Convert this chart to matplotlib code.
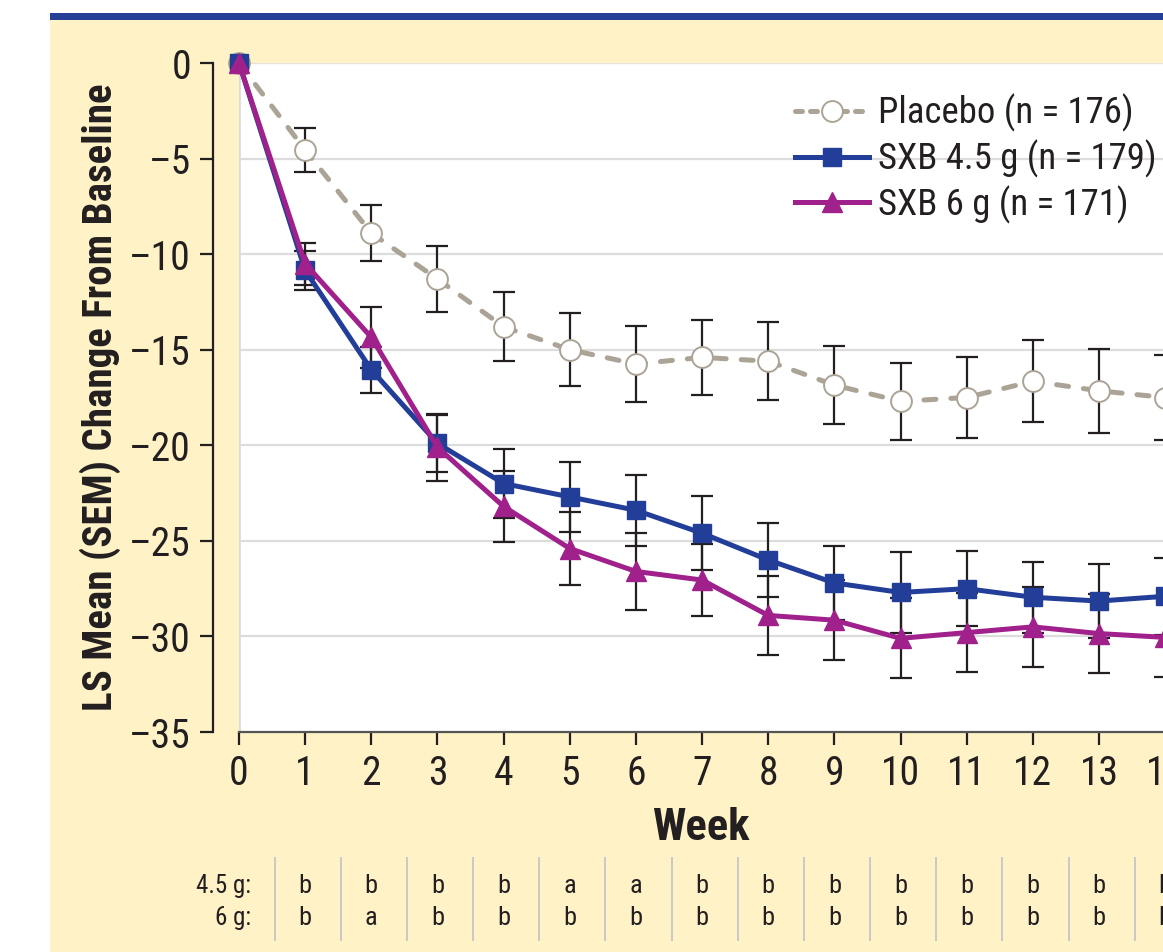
import matplotlib
matplotlib.use('Agg')
from matplotlib import pyplot as plt
from matplotlib.lines import Line2D
from matplotlib.patches import Rectangle
import matplotlib.transforms as mtransforms

# values
weeks = list(range(15))
placebo = [0, -4.55, -8.9, -11.3, -13.8, -15.0, -15.75, -15.4, -15.6, -16.85, -17.7, -17.5, -16.65, -17.15, -17.5]
placebo_sem = [0, 1.15, 1.45, 1.75, 1.8, 1.9, 2.0, 1.95, 2.05, 2.05, 2.0, 2.1, 2.15, 2.2, 2.2]
sxb45 = [0, -10.85, -16.05, -19.9, -22.0, -22.7, -23.4, -24.6, -26.0, -27.2, -27.7, -27.5, -27.95, -28.15, -27.9]
sxb45_sem = [0, 1.0, 1.2, 1.5, 1.8, 1.85, 1.85, 1.95, 1.95, 1.95, 2.1, 1.95, 1.85, 1.95, 2.0]
sxb6 = [0, -10.5, -14.35, -20.1, -23.2, -25.4, -26.6, -27.05, -28.9, -29.15, -30.1, -29.8, -29.5, -29.85, -30.05]
sxb6_sem = [0, 1.1, 1.6, 1.75, 1.85, 1.9, 2.0, 1.9, 2.05, 2.1, 2.1, 2.05, 2.1, 2.05, 2.05]

labels = ['Placebo (n = 176)', 'SXB 4.5 g (n = 179)', 'SXB 6 g (n = 171)']
sig_45 = ['b', 'b', 'b', 'b', 'a', 'a', 'b', 'b', 'b', 'b', 'b', 'b', 'b', 'b']
sig_6 = ['b', 'a', 'b', 'b', 'b', 'b', 'b', 'b', 'b', 'b', 'b', 'b', 'b', 'b']
yticks = [0, -5, -10, -15, -20, -25, -30, -35]

YELLOW = '#fef2c6'
NAVY = '#243f97'
BLUE = '#233e99'
MAGENTA = '#a0218c'
GREY = '#aba396'
INK = '#231f20'

plt.rcParams['font.family'] = ['Roboto Condensed', 'Liberation Sans', 'DejaVu Sans']

W, H = 1163, 952
fig = plt.figure(figsize=(W / 100, H / 100), dpi=100)
fig.patch.set_facecolor('white')

# yellow panel + blue rule on top
fig.patches.append(Rectangle((50 / W, 0), 1, 1 - 20 / H, transform=fig.transFigure,
                             facecolor=YELLOW, edgecolor='none', zorder=-10))
fig.patches.append(Rectangle((50 / W, 1 - 20 / H), 1, 7 / H, transform=fig.transFigure,
                             facecolor=NAVY, edgecolor='none', zorder=-10))

px_week = 66.15
ax = fig.add_axes([239 / W, 1 - 732 / H, 15 * px_week / W, (732 - 63) / H])
ax.set_facecolor('white')
ax.set_xlim(0, 15)
ax.set_ylim(-35, 0)

for y in yticks[1:-1]:
    ax.axhline(y, color='#dcdcdc', lw=1.6, zorder=0)
ax.axhline(0, color='#e2e2e2', lw=1.6, zorder=0)
ax.axvline(0, color='#dcdcdc', lw=2, zorder=0)

# error bars (week 0 has none)
for vals, sem in [(placebo, placebo_sem), (sxb45, sxb45_sem), (sxb6, sxb6_sem)]:
    ax.errorbar(weeks[1:], vals[1:], yerr=sem[1:], fmt='none', ecolor=INK,
                elinewidth=1.6, capsize=8, capthick=1.6, zorder=2)

ax.plot(weeks, placebo, color=GREY, lw=3.6, ls=(0, (2.4, 3.0)), dash_capstyle='round',
        marker='o', ms=15, mfc='white', mec=GREY, mew=1.4, zorder=3, clip_on=False)
ax.plot(weeks, sxb45, color=BLUE, lw=3.6, marker='s', ms=13, mec=BLUE,
        zorder=4, clip_on=False)
ax.plot(weeks, sxb6, color=MAGENTA, lw=3.6, marker='^', ms=15, mec=MAGENTA,
        zorder=5, clip_on=False)

# axes styling
for side in ['top', 'right']:
    ax.spines[side].set_visible(False)
ax.spines['left'].set_position(('outward', 19))
ax.spines['left'].set_color(INK)
ax.spines['left'].set_linewidth(1.6)
ax.spines['bottom'].set_color('#555555')
ax.spines['bottom'].set_linewidth(1.6)
ax.set_yticks(yticks)
ax.set_yticklabels([str(v).replace('-', '\u2013') for v in yticks])
ax.set_xticks(weeks)
ax.tick_params(axis='both', colors=INK, labelsize=28.5, width=1.6, length=9.5)
ax.tick_params(axis='y', pad=6)
ax.tick_params(axis='x', pad=6)

fig.text(100 / W, 1 - 397 / H, 'LS Mean (SEM) Change From Baseline', rotation=90,
         ha='center', va='center', fontsize=29.5, fontweight='bold', color=INK)
fig.text(701 / W, 1 - 828 / H, 'Week', ha='center', va='center',
         fontsize=32, fontweight='bold', color=INK)

handles = [
    Line2D([], [], color=GREY, lw=3.6, ls=(0, (1.4, 1.6)), dash_capstyle='round',
           marker='o', ms=15, mfc='white', mec=GREY, mew=1.4),
    Line2D([], [], color=BLUE, lw=3.6, marker='s', ms=13, mec=BLUE),
    Line2D([], [], color=MAGENTA, lw=3.6, marker='^', ms=15, mec=MAGENTA),
]
leg = ax.legend(handles, labels, loc='upper left',
                bbox_to_anchor=((795 - 239) / (15 * px_week), 1 - (94 - 63) / (732 - 63)),
                frameon=False, fontsize=26.5, handlelength=2.0, handletextpad=0.25,
                labelspacing=0.2, borderpad=0, borderaxespad=0)
for t in leg.get_texts():
    t.set_color(INK)

# significance table under the axis
tr = mtransforms.blended_transform_factory(ax.transData, fig.transFigure)
y_top, y_bot = 1 - 858 / H, 1 - 940 / H
y45, y6 = 1 - 886 / H, 1 - 918 / H
fig.text(251 / W, y45, '4.5 g:', ha='right', va='center', fontsize=18, color=INK)
fig.text(251 / W, y6, '6 g:', ha='right', va='center', fontsize=18, color=INK)
for i, (a, b) in enumerate(zip(sig_45, sig_6)):
    wk = weeks[i + 1]
    ax.add_line(Line2D([wk - 0.46, wk - 0.46], [y_top, y_bot], transform=tr,
                       color='#c8c8c8', lw=1.4, clip_on=False))
    ax.text(wk, y45, a, transform=tr, ha='center', va='center', fontsize=19,
            color=INK, clip_on=False)
    ax.text(wk, y6, b, transform=tr, ha='center', va='center', fontsize=19,
            color=INK, clip_on=False)

fig.savefig('out.png', dpi=100)
